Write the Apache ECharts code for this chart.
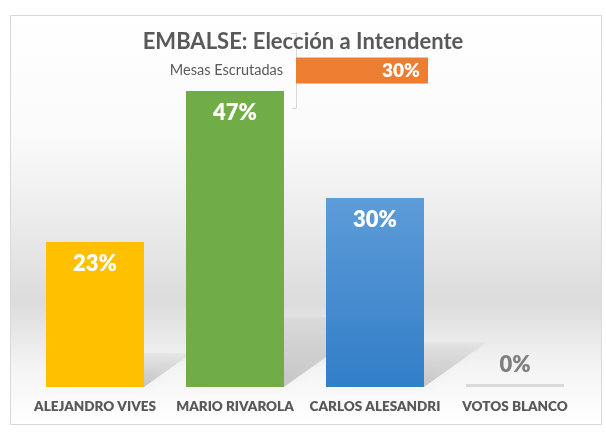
<!DOCTYPE html>
<html>
<head>
<meta charset="utf-8">
<script src="https://cdn.jsdelivr.net/npm/echarts@6/dist/echarts.min.js"></script>
<style>
  html, body { margin: 0; padding: 0; background: #fff; }
  #chart { width: 606px; height: 434px; }
</style>
</head>
<body>
<div id="chart"></div>
<script>
const titleText = 'EMBALSE: Elección a Intendente';
const candidates = ['ALEJANDRO VIVES', 'MARIO RIVAROLA', 'CARLOS ALESANDRI', 'VOTOS BLANCO'];
const votes = [23, 47, 30, 0];
const mesasLabel = ['Mesas Escrutadas'];
const mesasValue = [30];

const font = 'Lato, "Open Sans", sans-serif';
const textGray = '#595959';

const blueGrad = new echarts.graphic.LinearGradient(0, 0, 0, 1, [
  { offset: 0, color: '#5d9cd8' },
  { offset: 1, color: '#327ec8' },
]);
const barColors = ['#ffc000', '#70ad47', blueGrad, '#d9d9d9'];

// perspective shadow behind each bar (skewed up and to the right)
function renderShadow(params, api) {
  const i = api.value(0);
  const v = api.value(1);
  if (!v) return;
  const base = api.coord([i, 0]);
  const top = api.coord([i, v]);
  const w = api.size([1, 0])[0] * 0.7;
  const h = base[1] - top[1];
  const dx = h * 0.33;
  const dy = h * 0.235;
  const x0 = base[0] - w / 2;
  const x1 = base[0] + w / 2;
  const y0 = base[1];
  return {
    type: 'polygon',
    shape: {
      points: [[x0, y0], [x1, y0], [x1 + dx, y0 - dy], [x0 + dx, y0 - dy]],
    },
    style: {
      fill: new echarts.graphic.LinearGradient(0, 1, 0, 0, [
        { offset: 0, color: 'rgba(0,0,0,0.19)' },
        { offset: 0.6, color: 'rgba(0,0,0,0.1)' },
        { offset: 1, color: 'rgba(0,0,0,0.03)' },
      ]),
      shadowBlur: 10,
      shadowColor: 'rgba(0,0,0,0.15)',
    },
  };
}

const chart = echarts.init(document.getElementById('chart'), null, { renderer: 'canvas' });

const option = {
  backgroundColor: '#fff',
  animation: false,
  graphic: [
    {
      type: 'rect',
      z: -10,
      shape: { x: 10.5, y: 15.5, width: 591, height: 409 },
      style: {
        fill: new echarts.graphic.LinearGradient(0, 0, 0, 1, [
          { offset: 0, color: '#ffffff' },
          { offset: 0.3, color: '#fafafa' },
          { offset: 0.7, color: '#dcdcdc' },
          { offset: 0.86, color: '#f4f4f4' },
          { offset: 1, color: '#ffffff' },
        ]),
        stroke: '#d9d9d9',
        lineWidth: 1,
      },
    },
  ],
  title: {
    text: titleText,
    left: 'center',
    top: 26,
    textStyle: { fontFamily: font, fontSize: 22, fontWeight: 'bold', color: textGray },
  },
  grid: [
    { left: 25, right: 21, top: 72, bottom: 47 },
    { left: 296, right: 178, top: 33, bottom: 326 },
  ],
  xAxis: [
    {
      type: 'category',
      gridIndex: 0,
      data: candidates,
      axisLine: { show: false },
      axisTick: { show: false },
      axisLabel: {
        margin: 13,
        fontFamily: font,
        fontSize: 13.5,
        fontWeight: 800,
        color: textGray,
        interval: 0,
      },
    },
    {
      type: 'value',
      gridIndex: 1,
      min: 0,
      max: 30,
      show: false,
    },
  ],
  yAxis: [
    { type: 'value', gridIndex: 0, min: 0, max: 50, show: false },
    {
      type: 'category',
      gridIndex: 1,
      data: mesasLabel,
      axisLine: { show: true, lineStyle: { color: '#d9d9d9', width: 1 } },
      axisTick: { show: true, length: 4, lineStyle: { color: '#d9d9d9' } },
      axisLabel: { margin: 13, fontFamily: font, fontSize: 14.5, color: textGray },
      splitLine: { show: false },
    },
  ],
  series: [
    {
      type: 'custom',
      xAxisIndex: 0,
      yAxisIndex: 0,
      z: 1,
      silent: true,
      renderItem: renderShadow,
      data: votes.map((v, i) => [i, v]),
    },
    {
      type: 'bar',
      xAxisIndex: 0,
      yAxisIndex: 0,
      z: 3,
      barCategoryGap: '30%',
      barMinHeight: 3,
      data: votes.map((v, i) => ({
        value: v,
        itemStyle: { color: barColors[i] },
        label: v === 0
          ? { position: 'top', distance: 8, color: '#7f7f7f' }
          : { position: 'insideTop', distance: 11, color: '#fff' },
      })),
      label: {
        show: true,
        formatter: '{c}%',
        fontFamily: font,
        fontSize: 22,
        fontWeight: 800,
      },
    },
    {
      type: 'bar',
      xAxisIndex: 1,
      yAxisIndex: 1,
      barWidth: 26,
      data: mesasValue,
      itemStyle: { color: '#ed7d31' },
      label: {
        show: true,
        position: 'insideRight',
        distance: 8,
        formatter: '{c}%',
        fontFamily: font,
        fontSize: 19,
        fontWeight: 800,
        color: '#fff',
      },
    },
  ],
};

chart.setOption(option);
</script>
</body>
</html>
